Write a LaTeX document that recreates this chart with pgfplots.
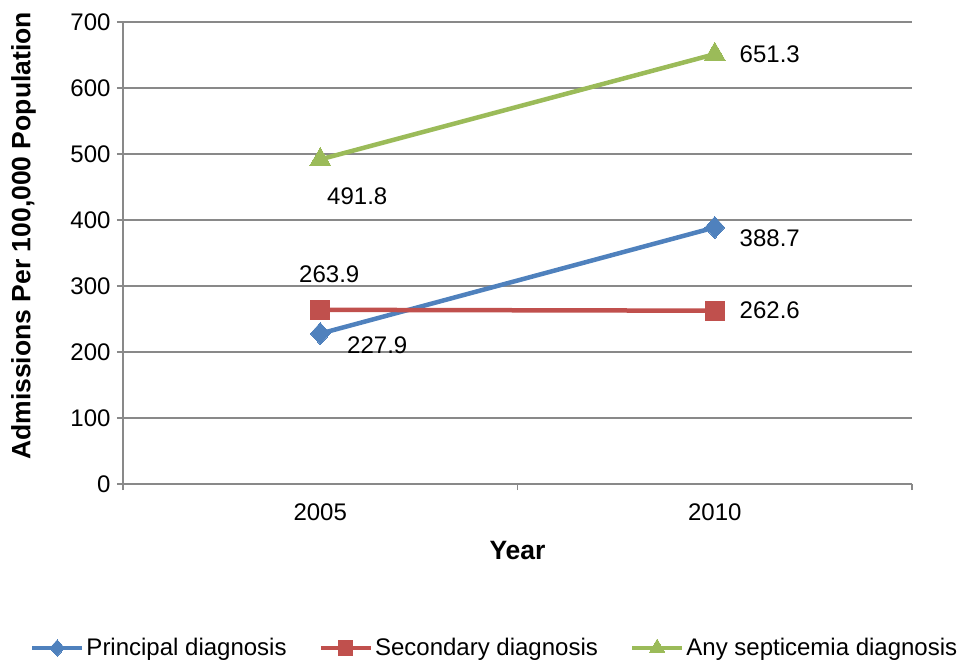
\documentclass[border=0pt]{standalone}
\usepackage{pgfplots}
\pgfplotsset{compat=1.18}
\usepackage{fontspec}
\setmainfont{Liberation Sans}
\definecolor{cBlue}{HTML}{4F81BD}
\definecolor{cRed}{HTML}{C0504D}
\definecolor{cGreen}{HTML}{9BBB59}
\definecolor{cGrid}{HTML}{898989}
\newcommand{\lblfont}{\fontsize{24}{28}\selectfont}
\newcommand{\ttlfont}{\fontsize{26.5}{30}\selectfont}

\begin{document}
\begin{tikzpicture}
\useasboundingbox (-123pt,-178pt) rectangle (845pt,484pt);
\begin{axis}[
  anchor=south west,
  scale only axis, width=789pt, height=462pt,
  xmin=-0.5, xmax=1.5, ymin=0, ymax=700,
  axis x line=bottom, axis y line=left,
  axis line style={-, draw=cGrid, line width=1.3pt},
  xtick={0,1}, xticklabels={2005,2010},
  minor xtick={-0.5,0.5,1.5},
  ytick={0,100,...,700},
  tick align=outside,
  major tick length=6pt, minor tick length=6pt,
  major x tick style={draw=none},
  minor x tick style={draw=cGrid, line width=1.3pt},
  major y tick style={draw=cGrid, line width=1.3pt},
  ymajorgrids, grid style={draw=cGrid, line width=1.3pt},
  /pgf/number format/assume math mode=true,
  every tick label/.append style={font=\lblfont, text=black},
  yticklabel style={xshift=-3pt},
  xticklabel style={yshift=-10pt},
  xlabel={\textbf{Year}}, ylabel={\textbf{Admissions Per 100,000 Population}},
  xlabel style={at={(axis description cs:0.5,-0.143)}, anchor=center, font=\ttlfont},
  ylabel style={at={(axis description cs:-0.126,0.537)}, anchor=center, font=\ttlfont},
  legend columns=3,
  legend style={at={(axis description cs:0.471,-0.355)}, anchor=center, draw=none,
    font=\lblfont, column sep=0pt, /tikz/every even column/.append style={column sep=30pt},
    /tikz/every odd column/.append style={column sep=0pt}},
  legend image code/.code={
    \draw[mark repeat=2, mark phase=2, #1, every mark/.append style={scale=0.75}]
      plot coordinates {(0pt,0pt) (25pt,0pt) (50pt,0pt)};},
  clip=false,
]
\addplot[cBlue, line width=4.5pt, mark=diamond*, mark size=11pt, mark options={solid, line width=0pt, xscale=1.2}]
  coordinates {(0,227.9) (1,388.7)};
\addlegendentry{Principal diagnosis}
\addplot[cRed, line width=4.5pt, mark=square*, mark size=9.5pt, mark options={solid, line width=0pt}]
  coordinates {(0,263.9) (1,262.6)};
\addlegendentry{Secondary diagnosis}
\addplot[cGreen, line width=4.5pt, mark=triangle*, mark size=12pt, mark options={solid, line width=0pt}]
  coordinates {(0,491.8) (1,651.3)};
\addlegendentry{Any septicemia diagnosis}

\node[font=\lblfont, shift={(57pt,-12pt)}] at (axis cs:0,227.9) {227.9};
\node[font=\lblfont, shift={(55pt,-11pt)}] at (axis cs:1,388.7) {388.7};
\node[font=\lblfont, shift={(9pt,36pt)}] at (axis cs:0,263.9) {263.9};
\node[font=\lblfont, shift={(55pt,0pt)}] at (axis cs:1,262.6) {262.6};
\node[font=\lblfont, shift={(37pt,-37pt)}] at (axis cs:0,491.8) {491.8};
\node[font=\lblfont, shift={(55pt,0pt)}] at (axis cs:1,651.3) {651.3};
\end{axis}
\end{tikzpicture}
\end{document}
